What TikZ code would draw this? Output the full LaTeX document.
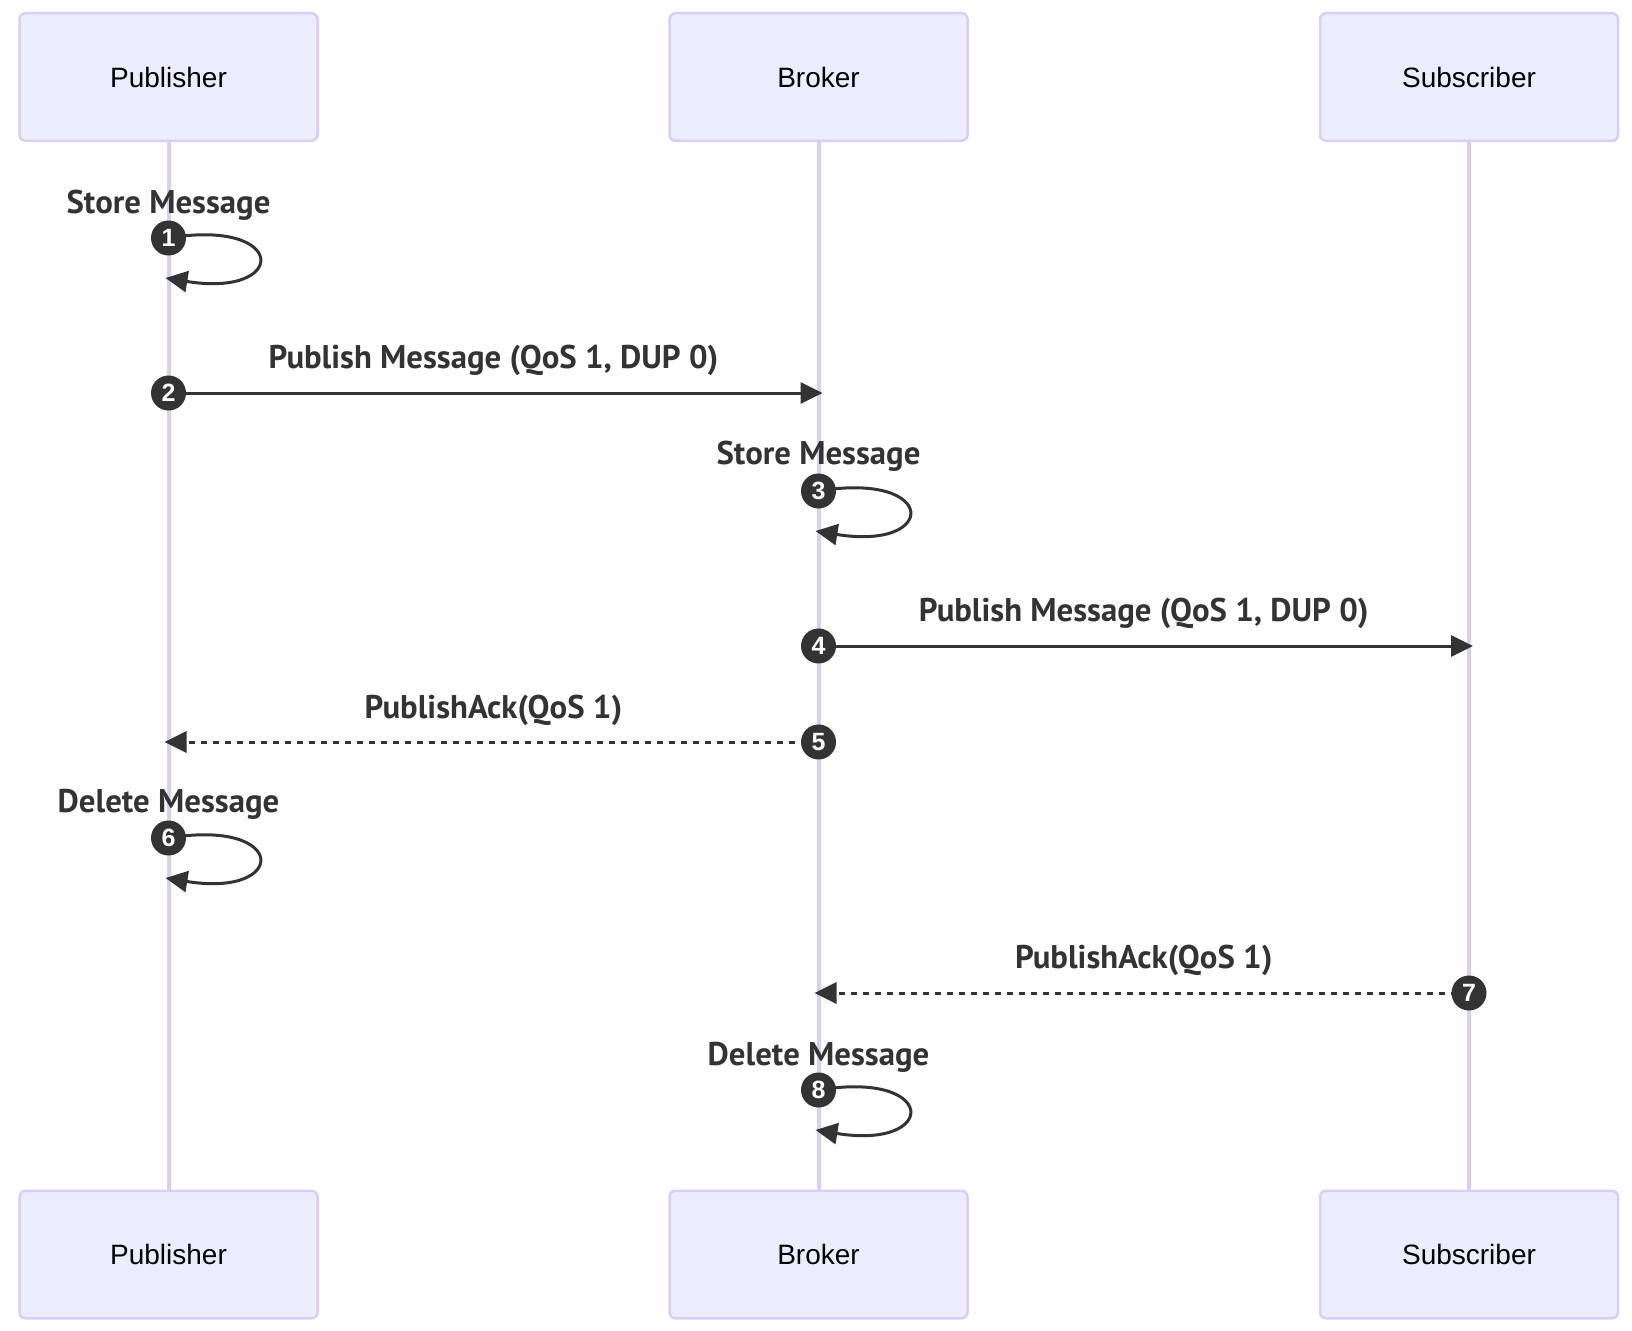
\documentclass[tikz,border=0pt]{standalone}
\usepackage{fontspec}
\setmainfont{Liberation Sans}
\newfontfamily\lblfont{PT Sans}
\usetikzlibrary{arrows.meta,calc}
\definecolor{actfill}{HTML}{ECECFF}
\definecolor{actline}{HTML}{DACEF3}
\definecolor{ink}{HTML}{333333}
\tikzset{
  actor/.style={draw=actline, fill=actfill, line width=2.5pt, rounded corners=6pt,
    minimum width=298pt, minimum height=127.5pt, inner sep=0pt, text=black,
    font=\fontsize{28}{32}\selectfont},
  lifeline/.style={draw=actline, line width=4pt},
  msg/.style={draw=ink, line width=3pt, -{Triangle[length=22pt,width=21pt]}},
  reply/.style={msg, dash pattern=on 6pt off 6pt},
  num/.style={circle, fill=ink, minimum size=35pt, inner sep=0pt, text=white,
    font=\bfseries\fontsize{25}{25}\selectfont},
  lbl/.style={anchor=base, text=ink, inner sep=0pt,
    font=\lblfont\bfseries\fontsize{32.8}{36}\selectfont}
}
\newcommand\selfloop[2]{\draw[msg] (#1) .. controls ($(#1)+(120,-20)$) and ($(#1)+(120,60)$) .. (#2);}
\begin{document}
\begin{tikzpicture}[x=1pt,y=-1pt]
\useasboundingbox (0,0) rectangle (1632,1330);
% actors
\node[actor] (pubT) at (168.5,77) {Publisher};
\node[actor] (brkT) at (818.5,77) {Broker};
\node[actor] (subT) at (1469,77) {Subscriber};
\node[actor] (pubB) at (168.5,1254.5) {Publisher};
\node[actor] (brkB) at (818.5,1254.5) {Broker};
\node[actor] (subB) at (1469,1254.5) {Subscriber};
% lifelines
\draw[lifeline] (pubT.south) -- (pubB.north);
\draw[lifeline] (brkT.south) -- (brkB.north);
\draw[lifeline] (subT.south) -- (subB.north);
% message anchor points
\coordinate (c1) at (168.5,238);  \coordinate (e1) at (165.5,278);
\coordinate (c2) at (168.5,393);  \coordinate (e2) at (822.5,393);
\coordinate (c3) at (818.5,491);  \coordinate (e3) at (815.5,531);
\coordinate (c4) at (818.5,646);  \coordinate (e4) at (1473,646);
\coordinate (c5) at (818.5,742);  \coordinate (e5) at (164.5,742);
\coordinate (c6) at (168.5,838);  \coordinate (e6) at (165.5,878);
\coordinate (c7) at (1469,993);   \coordinate (e7) at (814.5,993);
\coordinate (c8) at (818.5,1090); \coordinate (e8) at (815.5,1130);
% connectors
\selfloop{c1}{e1}
\draw[msg] (c2) -- (e2);
\selfloop{c3}{e3}
\draw[msg] (c4) -- (e4);
\draw[reply] (c5) -- (e5);
\selfloop{c6}{e6}
\draw[reply] (c7) -- (e7);
\selfloop{c8}{e8}
% sequence numbers
\foreach \i in {1,...,8} { \node[num] (n\i) at (c\i) {\i}; }
% labels
\node[lbl] (l1) at (168.5,213) {Store Message};
\node[lbl] (l2) at (493.5,368) {Publish Message (QoS 1, DUP 0)};
\node[lbl] (l3) at (818.5,464) {Store Message};
\node[lbl] (l4) at (1143.75,621) {Publish Message (QoS 1, DUP 0)};
\node[lbl] (l5) at (493.5,718) {PublishAck(QoS 1)};
\node[lbl] (l6) at (168.5,812) {Delete Message};
\node[lbl] (l7) at (1143.75,968) {PublishAck(QoS 1)};
\node[lbl] (l8) at (818.5,1065) {Delete Message};
\end{tikzpicture}
\end{document}
